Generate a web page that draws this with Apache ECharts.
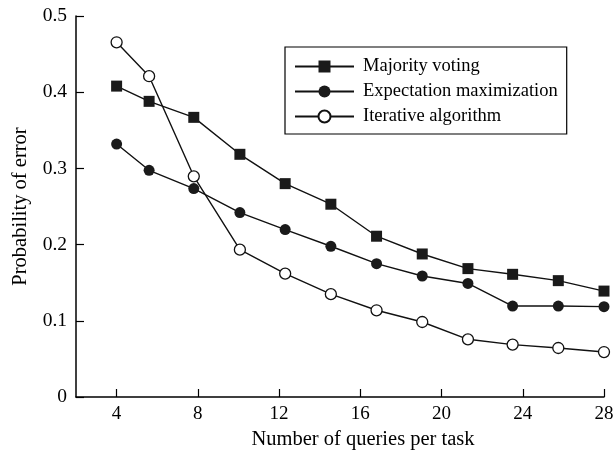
<!DOCTYPE html>
<html>
<head>
<meta charset="utf-8">
<script src="https://cdn.jsdelivr.net/npm/echarts@6/dist/echarts.min.js"></script>
<style>html,body{margin:0;padding:0;background:#fff}#c{width:615px;height:451px}</style>
</head>
<body>
<div id="c"></div>
<script>
var xTicks = [4, 8, 12, 16, 20, 24, 28];
var xValues = [4, 5.6, 7.8, 10.07, 12.3, 14.55, 16.8, 19.05, 21.3, 23.5, 25.75, 28];
var majorityVoting = [0.408, 0.388, 0.367, 0.3185, 0.280, 0.253, 0.211, 0.1877, 0.1685, 0.161, 0.1527, 0.139];
var expectationMax = [0.332, 0.2975, 0.2735, 0.242, 0.2197, 0.1978, 0.175, 0.1588, 0.149, 0.1194, 0.1194, 0.1186];
var iterativeAlg = [0.4655, 0.421, 0.2896, 0.1934, 0.162, 0.135, 0.1138, 0.0984, 0.0757, 0.0688, 0.0643, 0.059];
var seriesNames = ['Majority voting', 'Expectation maximization', 'Iterative algorithm'];

function pairs(ys) { return xValues.map(function (x, i) { return [x, ys[i]]; }); }

var font = 'Liberation Serif';
var chart = echarts.init(document.getElementById('c'), null, { renderer: 'canvas' });
chart.setOption({
  animation: false,
  backgroundColor: '#fff',
  grid: { left: 76, right: 11, top: 16, bottom: 54, containLabel: false, outerBoundsMode: 'none' },
  legend: {
    orient: 'vertical',
    left: 285,
    top: 47,
    padding: [10, 9, 8, 9],
    borderColor: '#000',
    borderWidth: 1.2,
    itemWidth: 59,
    itemHeight: 15,
    itemGap: 6,
    textStyle: { fontFamily: font, fontSize: 18.5, color: '#000', padding: [0, 0, 0, 4] },
    data: seriesNames
  },
  xAxis: {
    type: 'value',
    min: 2,
    max: 28,
    name: 'Number of queries per task',
    nameLocation: 'middle',
    nameGap: 32,
    nameTextStyle: { fontFamily: font, fontSize: 20.5, color: '#000', padding: [0, 0, 0, 46] },
    axisLine: { lineStyle: { color: '#000', width: 1.5 } },
    axisTick: { show: true, inside: true, length: 8, customValues: xTicks, lineStyle: { color: '#000', width: 1.2 } },
    axisLabel: { customValues: xTicks, fontFamily: font, fontSize: 19, color: '#000', margin: 8 },
    splitLine: { show: false }
  },
  yAxis: {
    type: 'value',
    min: 0,
    max: 0.5,
    interval: 0.1,
    name: 'Probability of error',
    nameLocation: 'middle',
    nameGap: 45,
    nameTextStyle: { fontFamily: font, fontSize: 20.5, color: '#000' },
    axisLine: { show: true, lineStyle: { color: '#000', width: 1.5 } },
    axisTick: { show: true, inside: true, length: 8, lineStyle: { color: '#000', width: 1.2 } },
    axisLabel: {
      fontFamily: font, fontSize: 19.5, color: '#000', margin: 9,
      formatter: function (v) { return v === 0 ? '0' : v.toFixed(1); }
    },
    splitLine: { show: false }
  },
  series: [
    {
      name: seriesNames[0], type: 'line', data: pairs(majorityVoting),
      symbol: 'rect', symbolSize: 11,
      lineStyle: { color: '#111', width: 1.4 },
      itemStyle: { color: '#1a1a1a', borderColor: '#1a1a1a', borderWidth: 0 }
    },
    {
      name: seriesNames[1], type: 'line', data: pairs(expectationMax),
      symbol: 'circle', symbolSize: 11,
      lineStyle: { color: '#111', width: 1.4 },
      itemStyle: { color: '#1a1a1a', borderColor: '#1a1a1a', borderWidth: 0 }
    },
    {
      name: seriesNames[2], type: 'line', data: pairs(iterativeAlg),
      symbol: 'circle', symbolSize: 11,
      lineStyle: { color: '#111', width: 1.4 },
      itemStyle: { color: '#fff', borderColor: '#111', borderWidth: 1.3 }
    }
  ]
});
</script>
</body>
</html>
